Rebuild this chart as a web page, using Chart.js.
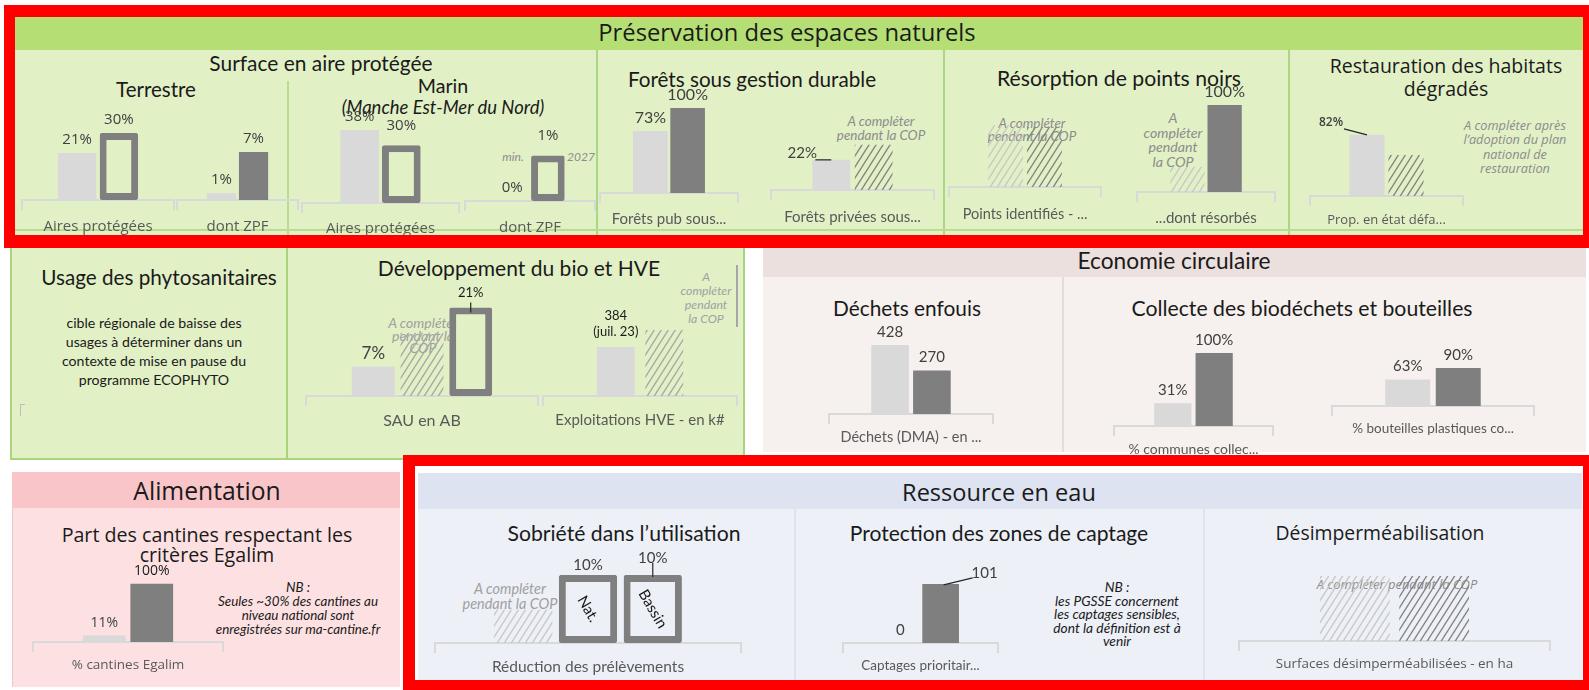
<!DOCTYPE html>
<html lang="fr">
<head>
<meta charset="utf-8">
<title>Tableau de bord COP</title>
<script src="https://cdn.jsdelivr.net/npm/chart.js@4.4.1/dist/chart.umd.min.js"></script>
<style>
  body { margin: 0; width: 1589px; height: 690px; position: relative; overflow: hidden; background: #fff; }
  .t { position: absolute; white-space: nowrap; text-align: center; transform: translate(-50%, -50%); color: #1a1a1a; z-index: 1; line-height: 1.15; }
  canvas { position: absolute; z-index: 2; }
</style>
</head>
<body>
<script>
const terrestreCats = ['Aires protégées', 'dont ZPF'];
const terrestreActuel = [21, 1];
const terrestreCible = [30, 7];

const marinCats = ['Aires protégées', 'dont ZPF'];
const marinActuel = [38, 0];
const marinCible = [30, 1];

const foretsCats = ['Forêts pub sous...', 'Forêts privées sous...'];
const foretsActuel = [73, 22];
const foretsCible = [100, null];
const foretsACompleter = [null, 33];

const pointsCats = ['Points identifiés - ...', '...dont résorbés'];
const pointsACompleterActuel = [62, 29];
const pointsACompleterCible = [60, null];
const pointsCible = [null, 100];

const habitatsCats = ['Prop. en état défa...'];
const habitatsActuel = [82];
const habitatsACompleter = [55];

const bioCats = ['SAU en AB', 'Exploitations HVE - en k#'];
const bioActuel = [7, 384];
const bioACompleter = [15, 518];
const bioCible = [21, null];

const dechetsCats = ['Déchets (DMA) - en ...'];
const dechetsActuel = [428];
const dechetsCible = [270];

const collecteCats = ['% communes collec...', '% bouteilles plastiques co...'];
const collecteActuel = [31, 63];
const collecteCible = [100, 90];

const cantinesCats = ['% cantines Egalim'];
const cantinesActuel = [11];
const cantinesCible = [100];

const sobrieteCats = ['Réduction des prélèvements'];
const sobrieteACompleter = [4.9];
const sobrieteNat = [10];
const sobrieteBassin = [10];

const captagesCats = ['Captages prioritair...'];
const captagesActuel = [0];
const captagesCible = [101];

const desimpCats = ['Surfaces désimperméabilisées - en ha'];
const desimpACompleterActuel = [65];
const desimpACompleterCible = [65];

// ---------- styles ----------
const OS = '"Open Sans", sans-serif';
const LT = 'Lato, sans-serif';
const LIGHT = '#d9d9d9';
const DARK = '#7f7f7f';
const GREEN_BG = '#e2f0c6';
const BLUE_BG = '#edf0f7';
Chart.defaults.font.family = LT;

function box(x0, y0, x1, y1, css) {
  const d = document.createElement('div');
  d.style.cssText = `position:absolute;left:${x0}px;top:${y0}px;width:${x1 - x0}px;height:${y1 - y0}px;box-sizing:border-box;${css || ''}`;
  document.body.appendChild(d);
  return d;
}

function text(x, y, html, size, family, css, w, lh) {
  const d = document.createElement('div');
  d.className = 't';
  d.innerHTML = html;
  d.style.left = x + 'px';
  d.style.top = y + 'px';
  d.style.fontSize = size + 'px';
  d.style.fontFamily = family;
  if (lh) d.style.lineHeight = lh + 'px';
  if (css) d.style.cssText += css;
  document.body.appendChild(d);
  if (w) d.style.fontSize = (size * w / d.offsetWidth) + 'px';
}

function hatch(color) {
  const w = 7, h = 11;
  const c = document.createElement('canvas');
  c.width = w; c.height = h;
  const g = c.getContext('2d');
  g.strokeStyle = color;
  g.lineWidth = 1.4;
  g.beginPath();
  for (let k = -1; k <= 1; k++) {
    g.moveTo(-w, h + k * h + h);
    g.lineTo(2 * w, h + k * h - 2 * h);
  }
  g.stroke();
  return g.createPattern(c, 'repeat');
}

const patterns = {
  hatchLight: hatch('#c8c8c8'),
  hatchMid: hatch('#a8a8a8'),
  hatchDark: hatch('#858585')
};

function barStyle(kind, fill) {
  if (kind === 'light') return { backgroundColor: LIGHT };
  if (kind === 'dark') return { backgroundColor: DARK };
  if (kind === 'outline') return { backgroundColor: fill, borderColor: DARK, borderWidth: 7, borderSkipped: false, borderRadius: 2 };
  return { backgroundColor: patterns[kind], hatched: true };
}

// étiquettes de valeur au-dessus des barres
const valueLabels = {
  id: 'valueLabels',
  afterDatasetsDraw(chart) {
    const ctx = chart.ctx;
    chart.data.datasets.forEach((ds, i) => {
      const meta = chart.getDatasetMeta(i);
      meta.data.forEach((bar, j) => {
        const v = ds.data[j];
        if (v == null) return;
        const o = ds.lab || {};
        ctx.save();
        if (ds.inner) {
          ctx.translate(bar.x, (bar.y + bar.base) / 2);
          ctx.rotate(60 * Math.PI / 180);
          ctx.font = '15px ' + LT;
          ctx.fillStyle = '#1a1a1a';
          ctx.textAlign = 'center';
          ctx.textBaseline = 'middle';
          ctx.fillText(ds.inner, 0, 0);
          ctx.setTransform(1, 0, 0, 1, 0, 0);
        }
        if (!ds.hatched) {
          const f = o.font || ds.labFont;
          ctx.font = (f[2] || '400') + ' ' + f[1] + 'px ' + f[0];
          ctx.fillStyle = o.color || '#404040';
          ctx.textAlign = 'center';
          ctx.textBaseline = 'middle';
          const cx = bar.x + (o.dx || 0);
          const cy = bar.y - 13 + (o.dy || 0);
          const lines = o.text || [v + ds.suffix];
          lines.forEach((s, k) => ctx.fillText(s, cx, cy + (k - (lines.length - 1) / 2) * 16));
          if (o.line) {
            ctx.strokeStyle = '#262626';
            ctx.lineWidth = 1.2;
            ctx.beginPath();
            ctx.moveTo(bar.x + o.line[0], bar.y + o.line[1]);
            ctx.lineTo(bar.x + o.line[2], bar.y + o.line[3]);
            ctx.stroke();
          }
        }
        ctx.restore();
      });
    });
  }
};

// ---------- fonds ----------
box(15, 17, 1583, 50, 'background:#b5df74');
box(15, 50, 1583, 236, 'background:' + GREEN_BG);
box(287, 81, 289, 236, 'background:#b9dd90');
box(596, 50, 598, 236, 'background:#acd681');
box(943, 50, 945, 236, 'background:#acd681');
box(1288, 50, 1290, 236, 'background:#acd681');
box(15, 229, 1583, 231, 'background:#b9dd90');

box(10, 240, 745, 460, 'background:' + GREEN_BG + ';border:2px solid #a9d37d');
box(286, 240, 288, 460, 'background:#a9d37d');
box(20, 404, 25, 416, 'border-left:1.5px solid #bdbdbd;border-top:1.5px solid #bdbdbd');
box(736, 265, 737.5, 327, 'background:#a6a6a6');

box(763, 248, 1586, 277, 'background:#ebe0dd');
box(763, 277, 1586, 452, 'background:#f6f0ee');
box(1062, 277, 1064, 452, 'background:#e6dbd7');

box(12, 472, 400, 508, 'background:#f9c5c8');
box(12, 508, 400, 687, 'background:#fde1e2;border-left:1px solid #f1c6c8');

box(418, 473, 1582, 509, 'background:#dde3f0');
box(418, 509, 1582, 680, 'background:' + BLUE_BG);
box(794, 509, 796, 680, 'background:#dde2ec');
box(1203, 509, 1205, 680, 'background:#dde2ec');

// ---------- textes ----------
const NOTE = 'font-style:italic;color:#8c8c8c;';
const NB = 'font-style:italic;color:#1a1a1a;';
const texts = [
  [787, 33, 'Préservation des espaces naturels', 22, OS, '', 378],
  [1174, 261, 'Economie circulaire', 22, LT, '', 193],
  [207, 491, 'Alimentation', 22, OS, '', 147],
  [999, 493, 'Ressource en eau', 22, OS, '', 194],
  [321, 63, 'Surface en aire protégée', 20, LT, '', 223],
  [156, 90, 'Terrestre', 20, LT, '', 80],
  [443, 86, 'Marin', 20, LT, '', 50],
  [443, 108, '(Manche Est-Mer du Nord)', 17, LT, 'font-style:italic;', 202],
  [752, 80, 'Forêts sous gestion durable', 20, LT, '', 248],
  [1119, 78, 'Résorption de points noirs', 20, LT, '', 244],
  [1446, 76.5, 'Restauration des habitats<br>dégradés', 19, OS, '', 232, 23],
  [159, 278, 'Usage des phytosanitaires', 20, LT, '', 236],
  [519, 268, 'Développement du bio et HVE', 20, LT, '', 282],
  [907, 308, 'Déchets enfouis', 20, LT, '', 148],
  [1302, 308, 'Collecte des biodéchets et bouteilles', 20, LT, '', 341],
  [207, 544.5, 'Part des cantines respectant les<br>critères Egalim', 20, OS, '', 291, 20],
  [624, 533, 'Sobriété dans l’utilisation', 20, LT, '', 233],
  [999, 533, 'Protection des zones de captage', 20, LT, '', 299],
  [1380, 533, 'Désimperméabilisation', 19, OS, '', 209],
  [154, 350.5, 'cible régionale de baisse des<br>usages à déterminer dans un<br>contexte de mise en pause du<br>programme ECOPHYTO', 14, LT, '', 184, 19],
  [881, 128, 'A compléter<br>pendant la COP', 13, LT, NOTE, 89, 14],
  [1032, 129.5, 'A compléter<br>pendant la COP', 13, LT, NOTE, 89, 13.5],
  [1173, 140, 'A<br>compléter<br>pendant<br>la COP', 13, LT, NOTE, 59, 14.5],
  [1515, 146.5, 'A compléter après<br>l’adoption du plan<br>national de<br>restauration', 13, OS, NOTE, 103, 14.5],
  [423, 336, 'A compléter<br>pendant la<br>COP', 14, LT, NOTE + 'color:#a0a0a0;', null, 12.5],
  [706, 297.5, 'A<br>compléter<br>pendant<br>la COP', 13, LT, NOTE + 'color:#a0a0a0;', 51, 14],
  [513, 157, 'min.', 12, LT, NOTE],
  [581, 157, '2027', 12, LT, NOTE],
  [510, 595.5, 'A compléter<br>pendant la COP', 14, LT, NOTE + 'color:#a0a0a0;', 95, 15],
  [1397, 584, 'A compléter pendant la COP', 13, OS, NOTE, 161],
  [298, 608, 'NB :<br>Seules ~30% des cantines au<br>niveau national sont<br>enregistrées sur ma-cantine.fr', 13, LT, NB, 165, 14],
  [1117, 614, 'NB :<br>les PGSSE concernent<br>les captages sensibles,<br>dont la définition est à<br>venir', 13, LT, NB, 127, 13.5]
];
texts.forEach(t => text(...t));

// ---------- mini-graphiques ----------
const units = [
  { cat: terrestreCats[0], x0: 22, x1: 174, base: 200, max: 44.7, cp: 0.55, bp: 0.92, fill: GREEN_BG, suffix: '%', tick: [OS, 15], tp: 8, lab: [OS, 15],
    bars: [{ v: terrestreActuel[0], kind: 'light' }, { v: terrestreCible[0], kind: 'outline' }] },
  { cat: terrestreCats[1], x0: 177, x1: 298, base: 200, max: 14.6, cp: 0.53, bp: 0.91, suffix: '%', tick: [OS, 15], tp: 8, lab: [OS, 15],
    bars: [{ v: terrestreActuel[1], kind: 'light' }, { v: terrestreCible[1], kind: 'dark' }] },
  { cat: marinCats[0], x0: 302, x1: 459, base: 203, max: 52, cp: 0.53, bp: 0.93, fill: GREEN_BG, suffix: '%', tick: [OS, 15], tp: 7, lab: [OS, 15],
    bars: [{ v: marinActuel[0], kind: 'light' }, { v: marinCible[0], kind: 'outline', lab: { dy: -7 } }] },
  { cat: marinCats[1], x0: 465, x1: 595, base: 201, max: 2.2, cp: 0.55, bp: 0.94, fill: GREEN_BG, suffix: '%', tick: [OS, 15], tp: 8, lab: [OS, 15],
    bars: [{ v: marinActuel[1], kind: 'light' }, { v: marinCible[1], kind: 'outline', lab: { dy: -7 } }] },
  { cat: foretsCats[0], x0: 600, x1: 738, base: 193, max: 117.6, cp: 0.54, bp: 0.93, suffix: '%', tick: [LT, 15], tp: 7, lab: [LT, 16],
    bars: [{ v: foretsActuel[0], kind: 'light' }, { v: foretsCible[0], kind: 'dark' }] },
  { cat: foretsCats[1], x0: 771, x1: 934, base: 190, max: 73, cp: 0.52, bp: 0.89, suffix: '%', tick: [LT, 15], tp: 8, lab: [LT, 15],
    bars: [{ v: foretsActuel[1], kind: 'light', lab: { dx: -29, dy: 6, line: [-16, 0, 0, 0] } }, { v: foretsACompleter[1], kind: 'hatchDark' }] },
  { cat: pointsCats[0], x0: 949, x1: 1101, base: 187, max: 100, cp: 0.51, bp: 0.9, suffix: '', tick: [LT, 14.5], tp: 9, lab: [LT, 15],
    bars: [{ v: pointsACompleterActuel[0], kind: 'hatchLight' }, { v: pointsACompleterCible[0], kind: 'hatchDark' }] },
  { cat: pointsCats[1], x0: 1137, x1: 1275, base: 192, max: 115, cp: 0.54, bp: 0.92, suffix: '%', tick: [LT, 15], tp: 7, lab: [LT, 16],
    bars: [{ v: pointsACompleterActuel[1], kind: 'hatchLight' }, { v: pointsCible[1], kind: 'dark' }] },
  { cat: habitatsCats[0], x0: 1310, x1: 1463, base: 196, max: 134, cp: 0.51, bp: 0.9, suffix: '%', tick: [OS, 13], tp: 6, lab: [OS, 12, '600'],
    bars: [{ v: habitatsActuel[0], kind: 'light', lab: { dx: -36, dy: 1, line: [-23, -6, 0, 0] } }, { v: habitatsACompleter[0], kind: 'hatchDark' }] },
  { cat: bioCats[0], x0: 306, x1: 538, base: 396, max: 23.7, cp: 0.63, bp: 0.88, fill: GREEN_BG, suffix: '%', tick: [LT, 16], lab: [LT, 17],
    bars: [{ v: bioActuel[0], kind: 'light' }, { v: bioACompleter[0], kind: 'hatchMid' },
           { v: bioCible[0], kind: 'outline', lab: { dy: -2, line: [0, -5, 0, 5], font: [LT, 13], color: '#1a1a1a' } }] },
  { cat: bioCats[1], x0: 543, x1: 737, base: 396, max: 784, cp: 0.5, bp: 0.78, suffix: '', tick: [LT, 15], lab: [LT, 15],
    bars: [{ v: bioActuel[1], kind: 'light', lab: { text: [bioActuel[1] + '', '(juil. 23)'], dy: -10.5, font: [LT, 13], color: '#1a1a1a' } },
           { v: bioACompleter[1], kind: 'hatchMid' }] },
  { cat: dechetsCats[0], x0: 829, x1: 993, base: 414, max: 620, cp: 0.51, bp: 0.9, suffix: '', tick: [LT, 14.5], lab: [LT, 15],
    bars: [{ v: dechetsActuel[0], kind: 'light' }, { v: dechetsCible[0], kind: 'dark' }] },
  { cat: collecteCats[0], x0: 1114, x1: 1273, base: 426, max: 137, cp: 0.52, bp: 0.9, suffix: '%', tick: [LT, 14], lab: [LT, 15],
    bars: [{ v: collecteActuel[0], kind: 'light' }, { v: collecteCible[0], kind: 'dark' }] },
  { cat: collecteCats[1], x0: 1332, x1: 1534, base: 406, max: 237, cp: 0.5, bp: 0.89, suffix: '%', tick: [LT, 13.5], lab: [LT, 15],
    bars: [{ v: collecteActuel[1], kind: 'light' }, { v: collecteCible[1], kind: 'dark' }] },
  { cat: cantinesCats[0], x0: 33, x1: 223, base: 642, max: 172, cp: 0.5, bp: 0.9, suffix: '%', tick: [OS, 13.5], lab: [OS, 14],
    bars: [{ v: cantinesActuel[0], kind: 'light' }, { v: cantinesCible[0], kind: 'dark', lab: { color: '#1a1a1a' } }] },
  { cat: sobrieteCats[0], x0: 435, x1: 741, base: 643, max: 14.7, cp: 0.635, bp: 0.9, fill: BLUE_BG, suffix: '%', tick: [LT, 15.5], lab: [LT, 15],
    bars: [{ v: sobrieteACompleter[0], kind: 'hatchLight' },
           { v: sobrieteNat[0], kind: 'outline', inner: 'Nat.', lab: { dy: 3 } },
           { v: sobrieteBassin[0], kind: 'outline', inner: 'Bassin', lab: { dy: -4, line: [0, -12, 0, 2] } }] },
  { cat: captagesCats[0], x0: 843, x1: 998, base: 643, max: 171, cp: 0.52, bp: 0.91, suffix: '', tick: [LT, 13.5], lab: [LT, 15],
    bars: [{ v: captagesActuel[0], kind: 'light' }, { v: captagesCible[0], kind: 'dark', lab: { dx: 44, dy: 2, line: [3, 1, 32, -6] } }] },
  { cat: desimpCats[0], x0: 1239, x1: 1550, base: 641, max: 100, cp: 0.51, bp: 0.88, suffix: '', tick: [OS, 13.5], lab: [OS, 14],
    bars: [{ v: desimpACompleterActuel[0], kind: 'hatchLight' }, { v: desimpACompleterCible[0], kind: 'hatchDark' }] }
];

const PAD_TOP = 30, PLOT_H = 100, AXIS_H = 40;

units.forEach(u => {
  const c = document.createElement('canvas');
  c.width = u.x1 - u.x0 + 4;
  c.height = PAD_TOP + PLOT_H + AXIS_H;
  c.style.left = (u.x0 - 2) + 'px';
  c.style.top = (u.base - PLOT_H - PAD_TOP) + 'px';
  document.body.appendChild(c);

  new Chart(c, {
    type: 'bar',
    data: {
      labels: [u.cat],
      datasets: u.bars.map(b => Object.assign({
        data: [b.v],
        categoryPercentage: u.cp,
        barPercentage: u.bp,
        lab: b.lab,
        inner: b.inner,
        suffix: u.suffix,
        labFont: u.lab
      }, barStyle(b.kind, u.fill)))
    },
    options: {
      responsive: false,
      animation: false,
      events: [],
      layout: { padding: { top: PAD_TOP, left: 2, right: 2, bottom: 0 } },
      plugins: { legend: { display: false }, tooltip: { enabled: false } },
      scales: {
        x: {
          offset: true,
          grid: { offset: true, drawOnChartArea: false, drawTicks: true, tickLength: 10, color: '#d9d9d9', lineWidth: 2 },
          border: { color: '#d9d9d9', width: 2 },
          ticks: { color: '#595959', font: { family: u.tick[0], size: u.tick[1] }, padding: u.tp || 5, maxRotation: 0, minRotation: 0, autoSkip: false },
          afterFit: s => { s.height = AXIS_H; }
        },
        y: { display: false, min: 0, max: u.max }
      }
    },
    plugins: [valueLabels]
  });
});

// ---------- cadres rouges ----------
box(4, 5, 1589, 248, 'border:solid #ff0000;border-width:12px 6px 13px 11px;z-index:5');
box(403, 455, 1589, 690, 'border:solid #ff0000;border-width:11px 6px 10px 12px;z-index:5');
</script>
</body>
</html>
